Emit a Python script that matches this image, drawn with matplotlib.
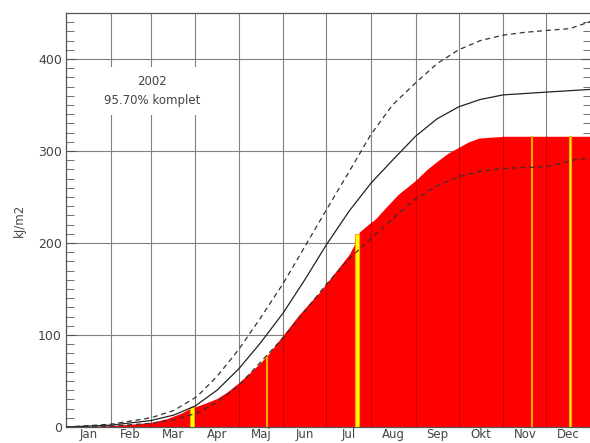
import matplotlib
matplotlib.use("Agg")
import matplotlib.pyplot as plt
from matplotlib.patches import Rectangle
import numpy as np

# day of year -> cumulative kJ/m2
mean_days = [0, 31, 59, 75, 90, 105, 120, 135, 151, 166, 181, 197, 212, 227, 243, 258, 273, 288, 304, 334, 365]
mean_vals = [0, 2, 7, 13, 23, 40, 63, 91, 124, 160, 198, 235, 265, 290, 316, 335, 348, 356, 361, 364, 367]

upper_days = [0, 31, 59, 75, 91, 105, 120, 135, 151, 166, 181, 197, 212, 227, 243, 258, 273, 288, 304, 319, 334, 350, 356, 365]
upper_vals = [0, 3, 10, 18, 33, 55, 84, 118, 156, 196, 236, 278, 318, 350, 374, 395, 410, 420, 426, 429, 431, 433, 436, 441]

lower_days = [0, 31, 59, 75, 91, 105, 120, 135, 151, 166, 181, 197, 212, 227, 243, 258, 273, 288, 304, 319, 334, 345, 355, 365]
lower_vals = [0, 1, 4, 8, 15, 27, 45, 70, 97, 126, 155, 183, 205, 226, 248, 262, 272, 278, 281, 282, 283, 287, 291, 292]

obs_days = [0, 15, 31, 45, 59, 70, 80, 86, 90, 97, 105, 112, 120, 130, 139, 145, 151, 162, 170, 176, 183,
            190, 197, 201, 204, 210, 215, 222, 231, 243, 251, 259, 266, 273, 280, 287, 295, 305, 365]
obs_vals = [0, 0.5, 1.5, 3, 5, 9, 15, 20, 22, 26, 31, 38, 48, 62, 76, 88, 100, 122, 136, 146, 160,
            174, 188, 200, 212, 220, 226, 238, 253, 268, 280, 290, 298, 304, 310, 314, 315, 316, 316]

# missing days (yellow)
gap_start = [86, 139, 201, 323, 350]
gap_width = [3, 1, 3, 1, 1]
gap_top = [22, 78, 210, 316, 316]

month_starts = [0, 31, 59, 90, 120, 151, 181, 212, 243, 273, 304, 334, 365]
month_names = ["Jan", "Feb", "Mar", "Apr", "Maj", "Jun", "Jul", "Aug", "Sep", "Okt", "Nov", "Dec"]

txt = "#444444"
fig = plt.figure(figsize=(5.9, 4.43), dpi=100)
ax = fig.add_axes([66 / 590, 16 / 443, 525 / 590, 414 / 443])

ax.fill_between(obs_days, 0, obs_vals, color="#FF0000", lw=0, zorder=2)
ax.bar(gap_start, gap_top, width=gap_width, align="edge", color="#FFFF00",
       edgecolor="#FFA500", linewidth=0.8, zorder=3)

# month lines through the red area
for m in month_starts[1:-1]:
    ax.vlines(m, 0, np.interp(m, obs_days, obs_vals), color="#C40000", lw=0.8, zorder=2.5)

ax.plot(mean_days, mean_vals, color="#222222", lw=0.9, zorder=4)
ax.plot(upper_days, upper_vals, color="#333333", lw=0.9, dashes=(4, 3), zorder=4)
ax.plot(lower_days, lower_vals, color="#333333", lw=0.9, dashes=(4, 3), zorder=4)

ax.set_xlim(0, 365)
ax.set_ylim(0, 450)

ax.set_xticks(month_starts[1:-1])
ax.set_xticklabels([])
ax.tick_params(axis="x", which="major", length=0)
centers = [(a + b) / 2 for a, b in zip(month_starts[:-1], month_starts[1:])]
ax.set_xticks(centers, minor=True)
ax.set_xticklabels(month_names, minor=True, fontsize=8.5, color=txt)
ax.tick_params(axis="x", which="minor", length=0, pad=1)

ax.set_yticks(np.arange(0, 401, 100))
ax.set_yticks(np.arange(0, 451, 10), minor=True)
ax.tick_params(axis="y", which="both", direction="in", left=True, right=True,
               labelsize=9, labelcolor=txt, color="#555555")
ax.tick_params(axis="y", which="major", length=7, pad=3)
ax.tick_params(axis="y", which="minor", length=6)

ax.set_axisbelow(True)
ax.grid(True, which="major", color="#808080", lw=0.8)

for s in ax.spines.values():
    s.set_color("#555555")
    s.set_linewidth(0.9)

ax.set_ylabel("kJ/m2", fontsize=8.5, color=txt, labelpad=9)

ax.add_patch(Rectangle((6, 339), 104, 52, facecolor="white", edgecolor="none", zorder=5))
ax.text(60, 365, "2002\n95.70% komplet", ha="center", va="center", fontsize=8.5,
        color=txt, linespacing=1.6, zorder=6)

fig.savefig("out.png", dpi=100)
